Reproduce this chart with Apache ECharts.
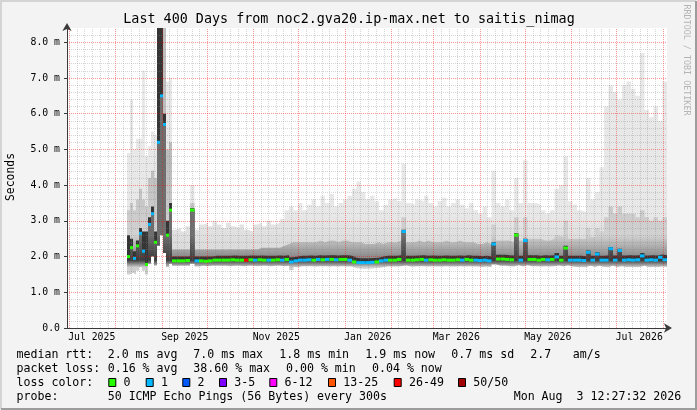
<!DOCTYPE html>
<html>
<head>
<meta charset="utf-8">
<script src="https://cdn.jsdelivr.net/npm/echarts@6/dist/echarts.min.js"></script>
<style>
  html, body { margin: 0; padding: 0; background: #f3f3f3; }
  #chart { width: 697px; height: 410px; }
</style>
</head>
<body>
<div id="chart"></div>
<script>
// graph window: 400 days ending Mon Aug 3 12:27:32 2026
const graphStart = Date.UTC(2025, 5, 29, 12, 27, 32);
const graphDays = 400;
const DAY = 86400000;

// bin start, in days since graphStart
const binDays = [
  40, 42, 44, 46, 48, 50, 52, 54, 56, 58, 60, 62, 64, 66, 68,
  70, 73, 76, 79, 82, 85, 88, 91, 94, 97,
  100, 103, 106, 109, 112, 115, 118, 121, 124, 127,
  130, 133, 136, 139, 142, 145, 148, 151, 154, 157,
  160, 163, 166, 169, 172, 175, 178, 181, 184, 187,
  190, 193, 196, 199, 202, 205, 208, 211, 214, 217,
  220, 223, 226, 229, 232, 235, 238, 241, 244, 247,
  250, 253, 256, 259, 262, 265, 268, 271, 274, 277,
  280, 283, 286, 289, 292, 295, 298, 301, 304, 307,
  310, 313, 316, 319, 322, 325, 328, 331, 334, 337,
  340, 343, 346, 349, 352, 355, 358, 361, 364, 367,
  370, 373, 376, 379, 382, 385, 388, 391, 394, 397
];

// median rtt (ms)
const medianMs = [
  2.0, 2.25, 1.95, 2.3, 2.65, 2.15, 1.78, 2.9, 3.2, 2.4, 5.2, 6.5, 5.7, 2.6, 3.3,
  1.88, 1.88, 1.88, 1.89, 3.3, 1.88, 1.88, 1.87, 1.88, 1.9,
  1.9, 1.9, 1.9, 1.91, 1.9, 1.9, 1.9, 1.91, 1.9, 1.91,
  1.9, 1.9, 1.9, 1.91, 1.9, 1.92, 1.85, 1.88, 1.9, 1.9,
  1.91, 1.9, 1.92, 1.91, 1.92, 1.92, 1.91, 1.92, 1.92, 1.9,
  1.85, 1.83, 1.83, 1.83, 1.84, 1.85, 1.88, 1.9, 1.9, 1.9,
  1.92, 2.7, 1.9, 1.9, 1.91, 1.92, 1.9, 1.91, 1.9, 1.9,
  1.91, 1.9, 1.9, 1.91, 1.9, 1.92, 1.9, 1.9, 1.89, 1.9,
  1.88, 2.35, 1.93, 1.93, 1.92, 1.91, 2.6, 1.9, 2.45, 1.92,
  1.92, 1.9, 1.92, 1.91, 1.92, 1.99, 1.9, 2.24, 1.9, 1.9,
  1.9, 1.89, 2.12, 1.9, 2.07, 1.9, 1.9, 2.22, 1.9, 2.17,
  1.9, 1.91, 1.9, 1.91, 2.02, 1.9, 1.91, 1.9, 1.98, 1.91
];

// loss class per bin (index into lossLabels)
const lossClass = [
  0, 0, 1, 0, 1, 1, 0, 1, 1, 0, 1, 1, 1, 0, 0,
  0, 0, 0, 0, 0, 1, 0, 0, 0, 0,
  0, 0, 0, 0, 0, 0, 6, 0, 1, 0,
  0, 1, 0, 0, 1, 0, 1, 1, 1, 1,
  1, 0, 1, 0, 1, 0, 1, 0, 0, 1,
  0, 1, 1, 1, 1, 0, 1, 1, 0, 0,
  0, 1, 0, 0, 0, 0, 1, 0, 0, 0,
  0, 0, 0, 0, 1, 0, 0, 1, 1, 1,
  1, 1, 0, 0, 0, 0, 0, 1, 1, 0,
  0, 0, 0, 1, 0, 1, 0, 0, 1, 1,
  1, 1, 1, 1, 1, 1, 1, 1, 1, 1,
  1, 1, 1, 1, 1, 1, 1, 1, 1, 1
];

// smoke: bottom, top of dark band, top of mid-grey band, top of light band (ms)
const smokeLow = [
  1.5, 1.55, 1.5, 1.6, 1.7, 1.6, 1.5, 1.8, 2.0, 1.75, 2.3, 2.6, 2.1, 1.7, 1.8,
  1.74, 1.74, 1.74, 1.74, 1.8, 1.72, 1.74, 1.73, 1.74, 1.74,
  1.74, 1.74, 1.73, 1.74, 1.74, 1.73, 1.74, 1.74, 1.73, 1.74,
  1.74, 1.73, 1.74, 1.74, 1.73, 1.74, 1.62, 1.7, 1.73, 1.73,
  1.73, 1.72, 1.73, 1.73, 1.72, 1.73, 1.72, 1.73, 1.72, 1.72,
  1.68, 1.66, 1.66, 1.66, 1.67, 1.68, 1.7, 1.72, 1.72, 1.72,
  1.73, 1.75, 1.72, 1.72, 1.73, 1.73, 1.72, 1.73, 1.72, 1.72,
  1.73, 1.72, 1.72, 1.73, 1.72, 1.73, 1.72, 1.72, 1.71, 1.72,
  1.7, 1.78, 1.74, 1.74, 1.73, 1.72, 1.76, 1.72, 1.76, 1.73,
  1.73, 1.72, 1.73, 1.72, 1.73, 1.75, 1.72, 1.75, 1.72, 1.71,
  1.71, 1.7, 1.74, 1.71, 1.74, 1.71, 1.7, 1.74, 1.7, 1.73,
  1.7, 1.71, 1.7, 1.71, 1.74, 1.7, 1.71, 1.7, 1.72, 1.71
];
const smokeDark = [
  2.6, 2.5, 2.15, 2.45, 2.8, 2.7, 2.7, 3.1, 3.4, 2.7, 9, 9, 6.0, 3.0, 3.5,
  2.0, 2.0, 2.0, 2.0, 3.35, 2.0, 2.0, 2.0, 2.0, 2.02,
  2.02, 2.02, 2.02, 2.03, 2.02, 2.02, 2.02, 2.03, 2.02, 2.03,
  2.02, 2.02, 2.02, 2.03, 2.02, 2.04, 1.98, 2.0, 2.02, 2.02,
  2.03, 2.02, 2.04, 2.03, 2.04, 2.04, 2.03, 2.04, 2.04, 2.02,
  1.97, 1.95, 1.95, 1.95, 1.96, 1.97, 2.0, 2.02, 2.02, 2.02,
  2.04, 2.75, 2.02, 2.02, 2.03, 2.04, 2.02, 2.03, 2.02, 2.02,
  2.03, 2.02, 2.02, 2.03, 2.02, 2.04, 2.02, 2.02, 2.01, 2.02,
  2.0, 2.4, 2.05, 2.05, 2.04, 2.03, 2.65, 2.02, 2.5, 2.04,
  2.04, 2.02, 2.04, 2.03, 2.04, 2.1, 2.02, 2.3, 2.02, 2.02,
  2.02, 2.01, 2.17, 2.02, 2.12, 2.02, 2.03, 2.27, 2.03, 2.22,
  2.03, 2.04, 2.03, 2.04, 2.1, 2.03, 2.04, 2.03, 2.06, 2.04
];
const smokeMid = [
  3.3, 3.5, 3.3, 3.6, 3.9, 3.6, 3.4, 4.2, 4.4, 4.2, 9, 9, 9, 5.0, 5.2,
  2.2, 2.2, 2.2, 2.2, 3.5, 2.2, 2.2, 2.2, 2.2, 2.2,
  2.2, 2.2, 2.2, 2.2, 2.2, 2.2, 2.2, 2.2, 2.2, 2.25,
  2.25, 2.25, 2.25, 2.25, 2.3, 2.35, 2.4, 2.4, 2.4, 2.4,
  2.4, 2.4, 2.45, 2.4, 2.45, 2.45, 2.4, 2.45, 2.45, 2.4,
  2.4, 2.4, 2.35, 2.35, 2.35, 2.4, 2.35, 2.4, 2.4, 2.4,
  2.45, 3.1, 2.4, 2.4, 2.45, 2.4, 2.45, 2.4, 2.4, 2.4,
  2.45, 2.4, 2.4, 2.45, 2.4, 2.4, 2.4, 2.35, 2.35, 2.4,
  2.35, 2.9, 2.45, 2.45, 2.45, 2.4, 3.1, 2.45, 3.1, 2.5,
  2.5, 2.5, 2.45, 2.45, 2.5, 2.6, 2.55, 3.0, 2.5, 2.5,
  2.5, 2.5, 2.8, 2.55, 2.8, 2.7, 3.1, 3.4, 3.2, 3.4,
  3.2, 3.2, 3.2, 3.1, 3.3, 3.1, 3.0, 3.1, 3.0, 3.1
];
const smokeHigh = [
  4.9, 6.4, 5.0, 5.3, 5.3, 7.2, 4.8, 5.1, 5.5, 5.4, 9, 9, 9, 6.9, 7.0,
  2.75, 2.8, 2.7, 2.85, 4.0, 2.75, 2.9, 2.95, 2.85, 3.0,
  2.9, 2.8, 2.95, 2.85, 2.8, 2.9, 2.75, 2.7, 2.9, 2.95,
  2.85, 3.0, 2.9, 2.95, 3.05, 3.3, 3.4, 3.3, 3.5, 3.3,
  3.45, 3.6, 3.4, 3.7, 3.5, 3.75, 3.4, 3.5, 3.6, 3.7,
  3.9, 4.1, 3.8, 3.6, 3.7, 3.55, 3.3, 3.45, 3.6, 3.65,
  3.55, 4.6, 3.5, 3.45, 3.6, 3.55, 3.7, 3.5, 3.4, 3.55,
  3.65, 3.4, 3.5, 3.6, 3.45, 3.35, 3.5, 3.3, 3.2, 3.4,
  3.1, 4.4, 3.5, 3.4, 3.6, 3.3, 4.2, 3.5, 4.7, 3.5,
  3.5, 3.45, 3.3, 3.2, 3.3, 3.9, 4.0, 4.8, 3.55, 3.45,
  3.3, 3.25, 4.2, 3.6, 3.8, 4.5, 6.2, 6.8, 6.6, 6.4,
  6.8, 6.9, 6.7, 6.5, 7.7, 6.1, 5.9, 6.2, 5.8, 6.9
];

const lossLabels = ['0', '1', '2', '3-5', '6-12', '13-25', '26-49', '50/50'];
const lossColors = ['#26ff00', '#00b8ff', '#0059ff', '#7e00ff', '#ff00ff', '#ff5500', '#ff0000', '#a10000'];

const monthStarts = [
  '2025-07-01', '2025-08-01', '2025-09-01', '2025-10-01', '2025-11-01', '2025-12-01', '2026-01-01',
  '2026-02-01', '2026-03-01', '2026-04-01', '2026-05-01', '2026-06-01', '2026-07-01', '2026-08-01'
];
const labelDates = ['2025-07-16', '2025-09-16', '2025-11-16', '2026-01-16', '2026-03-16', '2026-05-16', '2026-07-16'];
const labelTexts = ['Jul 2025', 'Sep 2025', 'Nov 2025', 'Jan 2026', 'Mar 2026', 'May 2026', 'Jul 2026'];

const rttStats = ['2.0 ms avg', '7.0 ms max', '1.8 ms min', '1.9 ms now', '0.7 ms sd', '2.7', 'am/s'];
const lossStats = ['0.16 % avg', '38.60 % max', '0.00 % min', '0.04 % now'];
const probeText = '50 ICMP Echo Pings (56 Bytes) every 300s';
const stampText = 'Mon Aug  3 12:27:32 2026';
const titleText = 'Last 400 Days from noc2.gva20.ip-max.net to saitis_nimag';

const MONO = '"DejaVu Sans Mono", monospace';
const GRID = { left: 67, right: 30, top: 28, bottom: 82 };
const Y_MAX = 8.4;
const PLOT_H = 410 - GRID.top - GRID.bottom;
const yPix = v => GRID.top + PLOT_H * (1 - v / Y_MAX);   // only for gradient placement

const toTime = d => graphStart + d * DAY;
const toStamp = s => Date.parse(s + 'T00:00:00Z');
const binEnd = binDays.map((d, i) => (i + 1 < binDays.length ? binDays[i + 1] : graphDays));

// vertical gradient in plot pixels; stops = [[value, colour], ...] from top to bottom
function vGrad(stops) {
  const y0 = yPix(stops[0][0]);
  const y1 = yPix(stops[stops.length - 1][0]);
  return {
    type: 'linear', global: true, x: 0, y: y0, x2: 0, y2: y1,
    colorStops: stops.map(s => ({ offset: (yPix(s[0]) - y0) / (y1 - y0), color: s[1] }))
  };
}

function smokeLayer(values, color) {
  const data = binDays.map((d, i) => [toTime(d), values[i]]);
  data.push([toTime(graphDays), values[values.length - 1]]);
  return {
    type: 'line', step: 'end', data: data, symbol: 'none', showSymbol: false,
    lineStyle: { width: 0 }, areaStyle: { color: color, opacity: 1 },
    silent: true, z: 2
  };
}

// x grid: red at month starts, grey at sixths of each month
const majorTimes = monthStarts.map(toStamp);
const minorTimes = [];
for (let i = 0; i + 1 < majorTimes.length; i++) {
  for (let j = 1; j < 6; j++) minorTimes.push(majorTimes[i] + (majorTimes[i + 1] - majorTimes[i]) * j / 6);
}
const labelTimes = labelDates.map(toStamp);

const minorStyle = { color: 'rgba(128,128,128,0.32)', width: 1, type: [1, 1] };
const majorStyle = { color: 'rgba(255,0,0,0.42)', width: 1, type: [1, 1] };

const medianRects = binDays.map((d, i) => [toTime(d), toTime(binEnd[i]), medianMs[i], lossClass[i]]);

// legend text pieces
const graphic = [];
function txt(x, y, text) {
  graphic.push({
    type: 'text', x: x, y: y, silent: true,
    style: { text: text, fill: '#000', fontFamily: MONO, fontSize: 11.6, align: 'left', verticalAlign: 'middle' }
  });
}
graphic.push({ type: 'polyline', silent: true, shape: { points: [[1, 409], [1, 1], [696, 1]] }, style: { stroke: '#d4d4d4', lineWidth: 2, fill: null } });
graphic.push({ type: 'polyline', silent: true, shape: { points: [[1, 409], [696, 409], [696, 1]] }, style: { stroke: '#9c9c9c', lineWidth: 2, fill: null } });
graphic.push({
  type: 'text', x: 349, y: 19.5, silent: true,
  style: { text: titleText, fill: '#000', fontFamily: MONO, fontSize: 13.4, align: 'center', verticalAlign: 'middle' }
});
graphic.push({
  type: 'text', x: 11, y: 177, rotation: Math.PI / 2, silent: true,
  style: { text: 'Seconds', fill: '#000', fontFamily: MONO, fontSize: 11.4, align: 'center', verticalAlign: 'middle' }
});
graphic.push({
  type: 'text', x: 686, y: 60, rotation: -Math.PI / 2, silent: true,
  style: { text: 'RRDTOOL / TOBI OETIKER', fill: '#b4b4b4', fontFamily: MONO, fontSize: 8.4, align: 'center', verticalAlign: 'middle' }
});

const rowY = [354.5, 368.5, 382.5, 396.5];
txt(16.5, rowY[0], 'median rtt:');
[107.7, 193.3, 279.3, 365.3, 451.3, 530.3, 572.7].forEach((x, i) => txt(x, rowY[0], rttStats[i]));
txt(16.5, rowY[1], 'packet loss:');
[107.7, 193.3, 286, 372].forEach((x, i) => txt(x, rowY[1], lossStats[i]));
txt(16.5, rowY[2], 'loss color:');
[108.3, 145.7, 182.3, 219, 269.3, 328, 393.7, 458].forEach((x, i) => {
  graphic.push({
    type: 'rect', silent: true, shape: { x: x + 0.5, y: rowY[2] - 4, width: 7, height: 8 },
    style: { fill: lossColors[i], stroke: '#000', lineWidth: 1 }
  });
  txt(x + 15.3, rowY[2], lossLabels[i]);
});
txt(16.5, rowY[3], 'probe:');
txt(107.7, rowY[3], probeText);
txt(513.7, rowY[3], stampText);

const chart = echarts.init(document.getElementById('chart'));
chart.setOption({
  animation: false,
  backgroundColor: '#f3f3f3',
  grid: Object.assign({ show: true, backgroundColor: '#ffffff', borderWidth: 0 }, GRID),
  xAxis: {
    type: 'value', min: graphStart, max: toTime(graphDays), z: 3,
    axisLine: { show: true, lineStyle: { color: '#3a3a3a', width: 1 }, symbol: ['none', 'arrow'], symbolSize: [7, 8], symbolOffset: [0, 5] },
    axisTick: { show: false },
    splitLine: { show: false },
    axisLabel: {
      customValues: labelTimes,
      formatter: v => {
        let best = 0;
        labelTimes.forEach((t, i) => { if (Math.abs(t - v) < Math.abs(labelTimes[best] - v)) best = i; });
        return labelTexts[best];
      },
      fontFamily: MONO, fontSize: 9.8, color: '#000', margin: 4, hideOverlap: false
    }
  },
  yAxis: {
    type: 'value', min: 0, max: Y_MAX, interval: 1, z: 3,
    axisLine: { show: true, lineStyle: { color: '#3a3a3a', width: 1 }, symbol: ['none', 'arrow'], symbolSize: [7, 8], symbolOffset: [0, 5] },
    axisTick: { show: true, length: 3, lineStyle: { color: '#3a3a3a' } },
    axisLabel: {
      fontFamily: MONO, fontSize: 9.8, color: '#000', margin: 7, showMaxLabel: false,
      formatter: v => (v === 0 ? '0.0' : (Math.abs(v - Math.round(v)) < 1e-6 ? v.toFixed(1) + ' m' : ''))
    },
    splitLine: { show: true, showMaxLine: false, lineStyle: majorStyle },
    minorTick: { show: false, splitNumber: 5 },
    minorSplitLine: { show: true, lineStyle: minorStyle }
  },
  graphic: graphic,
  series: [
    smokeLayer(smokeHigh, vGrad([[3.2, '#e8e8e8'], [2.4, '#dcdcdc']])),
    smokeLayer(smokeMid, vGrad([[4.5, '#bdbdbd'], [2.6, '#d2d2d2'], [2.0, '#8c8c8c']])),
    smokeLayer(smokeDark, '#353535'),
    smokeLayer(medianMs, vGrad([[2.6, '#6e6e6e'], [1.9, '#3c3c3c'], [1.7, '#d0d0d0']])),
    smokeLayer(smokeLow, '#ffffff'),
    {
      type: 'line', data: [[graphStart, 0]], symbol: 'none', lineStyle: { opacity: 0 }, silent: true, z: 4,
      markLine: {
        silent: true, symbol: ['none', 'none'], label: { show: false }, animation: false,
        data: minorTimes.map(t => ({ xAxis: t, lineStyle: minorStyle }))
          .concat(majorTimes.map(t => ({ xAxis: t, lineStyle: majorStyle })))
      }
    },
    {
      type: 'custom', z: 5, silent: true, data: medianRects,
      encode: { x: [0, 1], y: 2 },
      renderItem: (params, api) => {
        const v = api.value(2);
        const p0 = api.coord([api.value(0), v]);
        const p1 = api.coord([api.value(1), v]);
        return {
          type: 'rect',
          shape: { x: p0[0], y: p0[1] - 1.5, width: p1[0] - p0[0], height: 3 },
          style: { fill: lossColors[api.value(3)] }
        };
      }
    }
  ]
});
</script>
</body>
</html>
